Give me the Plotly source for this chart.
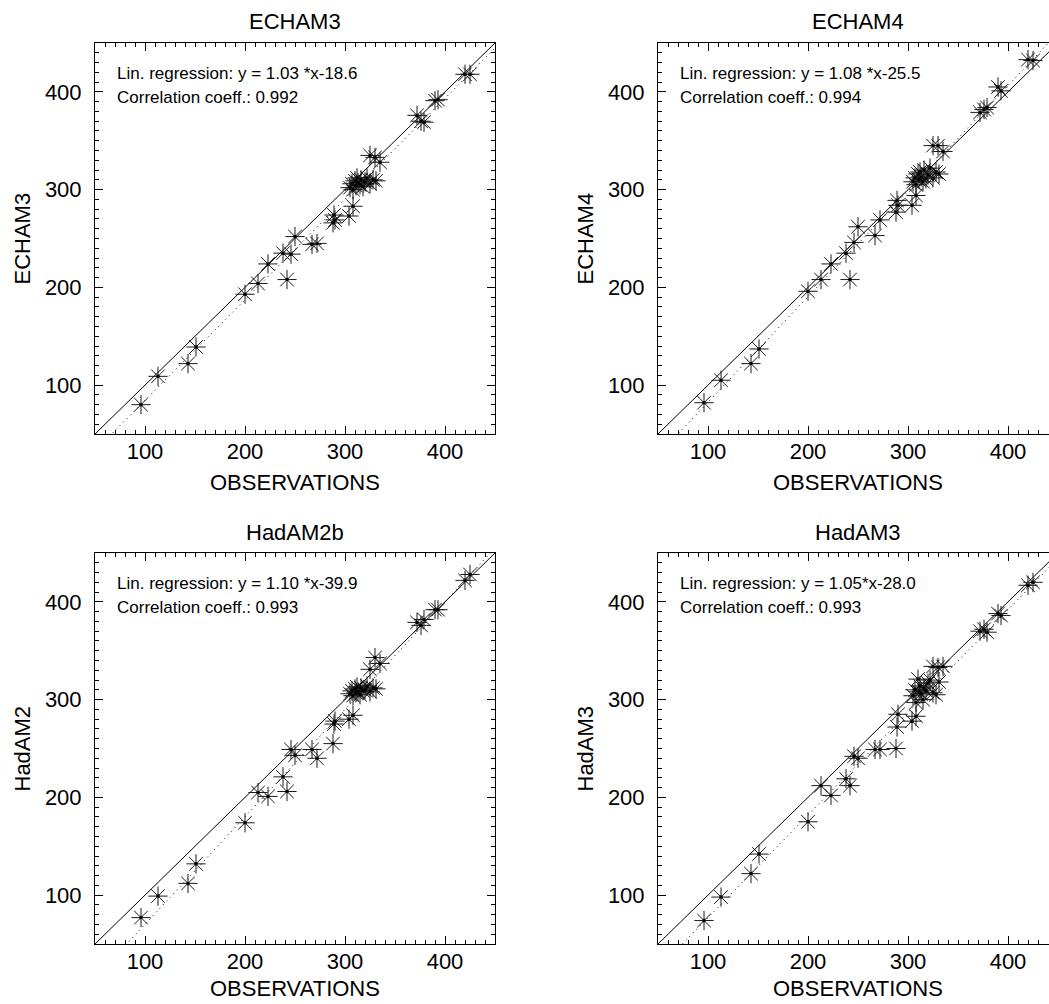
import plotly.graph_objects as go

# ---- data ----
obs = [96, 113, 143, 151, 200, 213, 223, 238, 242, 246, 250, 267, 272, 288, 289, 290, 304, 308,
       305, 307, 308, 310, 311, 312, 313, 315, 316, 318, 320, 322, 325, 328, 331,
       325, 330, 335, 372, 376, 379, 390, 393, 420, 425]

echam3 = [80, 109, 122, 139, 193, 204, 224, 235, 208, 234, 252, 244, 245, 266, 274, 269, 273, 283,
          302, 306, 300, 309, 304, 312, 307, 305, 310, 303, 308, 312, 306, 310, 309,
          335, 333, 328, 376, 370, 369, 391, 392, 418, 418]

echam4 = [82, 105, 122, 137, 196, 208, 224, 235, 208, 246, 262, 253, 269, 277, 289, 284, 284, 294,
          308, 312, 305, 316, 310, 318, 313, 308, 320, 311, 315, 322, 312, 318, 316,
          345, 345, 339, 379, 382, 384, 405, 401, 433, 432]

hadam2b = [77, 99, 112, 132, 174, 205, 201, 221, 206, 249, 243, 249, 240, 255, 275, 278, 280, 284,
           306, 309, 304, 311, 307, 313, 308, 305, 312, 309, 310, 314, 308, 312, 311,
           331, 343, 337, 379, 376, 382, 392, 392, 422, 428]

hadam3 = [74, 98, 122, 142, 175, 212, 202, 219, 212, 242, 240, 249, 249, 250, 272, 285, 278, 283,
          304, 310, 297, 321, 308, 314, 306, 300, 312, 309, 317, 320, 307, 305, 318,
          334, 333, 334, 370, 372, 369, 388, 386, 417, 420]

panel_titles = ["ECHAM3", "ECHAM4", "HadAM2b", "HadAM3"]
y_titles = ["ECHAM3", "ECHAM4", "HadAM2", "HadAM3"]
slopes = [1.03, 1.08, 1.10, 1.05]
intercepts = [-18.6, -25.5, -39.9, -28.0]
regr_texts = ["Lin. regression: y = 1.03 *x-18.6", "Lin. regression: y = 1.08 *x-25.5",
              "Lin. regression: y = 1.10 *x-39.9", "Lin. regression: y = 1.05*x-28.0"]
corr_texts = ["Correlation coeff.: 0.992", "Correlation coeff.: 0.994",
              "Correlation coeff.: 0.993", "Correlation coeff.: 0.993"]
model_values = [echam3, echam4, hadam2b, hadam3]
tick_values = [100, 200, 300, 400]

# ---- layout geometry (pixels) ----
W, H = 1049, 1004
FONT = "Liberation Sans, Arial, Helvetica, sans-serif"
boxes = [  # (left, right, top, bottom, xmax)
    (95, 495, 43, 434, 450),
    (658, 1049, 43, 434, 441),
    (95, 495, 553, 944, 450),
    (658, 1049, 553, 944, 441),
]

fig = go.Figure()
annotations = []

for i in range(4):
    l, r, t, b, xmax = boxes[i]
    xa = "x" if i == 0 else f"x{i+1}"
    ya = "y" if i == 0 else f"y{i+1}"
    xkey = "xaxis" if i == 0 else f"xaxis{i+1}"
    ykey = "yaxis" if i == 0 else f"yaxis{i+1}"
    right_panel = i % 2 == 1

    # 1:1 line
    fig.add_trace(go.Scatter(x=[50, 450], y=[50, 450], mode="lines",
                             line=dict(color="black", width=1), xaxis=xa, yaxis=ya,
                             showlegend=False, hoverinfo="skip"))
    # regression line
    fig.add_trace(go.Scatter(x=[50, 450], y=[slopes[i] * 50 + intercepts[i], slopes[i] * 450 + intercepts[i]],
                             mode="lines", line=dict(color="black", width=1, dash="1px,4px"),
                             xaxis=xa, yaxis=ya, showlegend=False, hoverinfo="skip"))
    # asterisks
    fig.add_trace(go.Scatter(x=obs, y=model_values[i], mode="markers",
                             marker=dict(symbol="asterisk-open", size=16, color="#1a1a1a",
                                         line=dict(color="#1a1a1a", width=1)),
                             xaxis=xa, yaxis=ya, showlegend=False, cliponaxis=True))
    fig.add_trace(go.Scatter(x=obs, y=model_values[i], mode="markers",
                             marker=dict(symbol="circle", size=3.5, color="black"),
                             xaxis=xa, yaxis=ya, showlegend=False, cliponaxis=True))

    axis_common = dict(
        tickmode="array", tickvals=tick_values, ticks="inside", ticklen=8, tickwidth=1,
        tickcolor="black", showline=True, linecolor="black", linewidth=1,
        showgrid=False, zeroline=False,
        tickfont=dict(family=FONT, size=22, color="black"),
        minor=dict(ticks="inside", ticklen=4, tickwidth=1, tickcolor="black",
                   tickmode="linear", tick0=0, dtick=10, showgrid=False),
    )
    fig.layout[xkey] = dict(axis_common, domain=[l / W, r / W], range=[50, xmax],
                            anchor=ya, mirror="ticks", ticklabelstandoff=-2)
    fig.layout[ykey] = dict(axis_common, domain=[1 - b / H, 1 - t / H], range=[50, 450],
                            anchor=xa, mirror=False if right_panel else "ticks",
                            ticklabelstandoff=8)

    cx = (l + (l + 400)) / 2
    # panel title
    annotations.append(dict(x=cx / W, y=1 - (t - 21) / H, xref="paper", yref="paper",
                            text=panel_titles[i], showarrow=False, xanchor="center", yanchor="middle",
                            font=dict(family=FONT, size=22, color="black")))
    # x axis title
    xt_y = min(b + 48, H - 16)
    annotations.append(dict(x=cx / W, y=1 - xt_y / H, xref="paper", yref="paper",
                            text="OBSERVATIONS", showarrow=False, xanchor="center", yanchor="middle",
                            font=dict(family=FONT, size=22, color="black")))
    # y axis title
    annotations.append(dict(x=(l - 73) / W, y=1 - ((t + b) / 2) / H, xref="paper", yref="paper",
                            text=y_titles[i], showarrow=False, xanchor="center", yanchor="middle",
                            textangle=-90, font=dict(family=FONT, size=22, color="black")))
    # regression texts
    annotations.append(dict(x=(l + 20) / W, y=1 - (t + 30) / H, xref="paper", yref="paper",
                            text=regr_texts[i], showarrow=False, xanchor="left", yanchor="middle",
                            font=dict(family=FONT, size=17, color="black")))
    annotations.append(dict(x=(l + 20) / W, y=1 - (t + 54) / H, xref="paper", yref="paper",
                            text=corr_texts[i], showarrow=False, xanchor="left", yanchor="middle",
                            font=dict(family=FONT, size=17, color="black")))

fig.update_layout(width=W, height=H, margin=dict(l=0, r=0, t=0, b=0),
                  paper_bgcolor="white", plot_bgcolor="white",
                  annotations=annotations, showlegend=False,
                  font=dict(family=FONT, color="black"))

fig.write_html("out.html", config={"displayModeBar": False},
               post_script="document.body.style.margin='0';document.body.style.overflow='hidden';")
